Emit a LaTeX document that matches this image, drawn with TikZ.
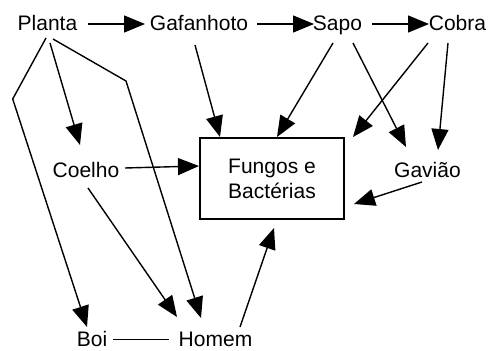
\documentclass[tikz,border=0pt]{standalone}
\usepackage{fontspec}
\setmainfont{Liberation Sans}
\usetikzlibrary{arrows.meta}
\begin{document}
\begin{tikzpicture}[x=1pt,y=-1pt,
  lbl/.style={anchor=base,inner sep=0pt,font=\fontsize{21}{25}\selectfont},
  boxnode/.style={draw,line width=1.6pt,minimum width=144pt,minimum height=81pt,inner sep=0pt,align=center,font=\fontsize{21}{25}\selectfont},
  arr/.style={line width=1.4pt,-{Triangle[length=21pt,width=17pt]}},
  ln/.style={line width=1.4pt}]
\useasboundingbox (0,0) rectangle (491,351);
\node[lbl] (planta) at (47.5,30) {Planta};
\node[lbl] (gafa) at (199,30) {Gafanhoto};
\node[lbl] (sapo) at (337.5,30) {Sapo};
\node[lbl] (cobra) at (457.5,30) {Cobra};
\node[lbl] (coelho) at (86,177) {Coelho};
\node[lbl] (gaviao) at (427.5,177) {Gavião};
\node[lbl] (boi) at (92,346.5) {Boi};
\node[lbl] (homem) at (215.5,346.5) {Homem};
\node[boxnode] (fungos) at (272,178.5) {Fungos e\\Bactérias};
\coordinate (bendA) at (12.7,99);
\coordinate (bendB) at (126,81);
% top row
\draw[arr] ([shift={(40.5,-6)}]planta.base) -- ([shift={(-54,-6)}]gafa.base);
\draw[arr] ([shift={(58,-6)}]gafa.base) -- ([shift={(-23.5,-6)}]sapo.base);
\draw[arr] ([shift={(34.5,-6)}]sapo.base) -- ([shift={(-28.5,-6)}]cobra.base);
% from Planta
\draw[arr] ([shift={(2.5,13)}]planta.base) -- ([shift={(-6,-32)}]coelho.base);
\draw[arr] ([shift={(-1.5,8)}]planta.base) -- (bendA) -- ([shift={(-5,-19.5)}]boi.base);
\draw[arr] ([shift={(5.5,9)}]planta.base) -- (bendB) -- ([shift={(-14.5,-28.5)}]homem.base);
% from Coelho
\draw[arr] ([shift={(2,11)}]coelho.base) -- ([shift={(-38.5,-29.5)}]homem.base);
\draw[arr] ([shift={(39,-9)}]coelho.base) -- ([shift={(-73,-12.5)}]fungos.center);
% into Fungos
\draw[arr] ([shift={(-4,15)}]gafa.base) -- ([shift={(-52,-41.5)}]fungos.center);
\draw[arr] ([shift={(-4.5,13)}]sapo.base) -- ([shift={(5,-41.5)}]fungos.center);
\draw[arr] ([shift={(-29.5,13)}]cobra.base) -- ([shift={(81,-41.5)}]fungos.center);
\draw[arr] ([shift={(-5.5,5)}]gaviao.base) -- ([shift={(82,25.5)}]fungos.center);
\draw[arr] ([shift={(24.5,-19.5)}]homem.base) -- ([shift={(2,49.5)}]fungos.center);
% into Gaviao
\draw[arr] ([shift={(15.5,13)}]sapo.base) -- ([shift={(-21.5,-30)}]gaviao.base);
\draw[arr] ([shift={(-9.5,13)}]cobra.base) -- ([shift={(10.5,-27)}]gaviao.base);
% Boi -- Homem
\draw[ln] ([shift={(21,-7)}]boi.base) -- ([shift={(-46.5,-7)}]homem.base);
\end{tikzpicture}
\end{document}
